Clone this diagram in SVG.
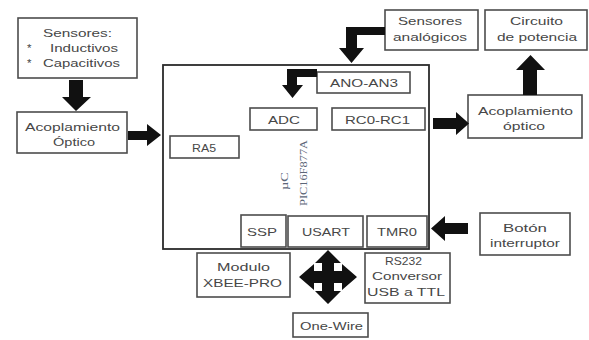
<svg xmlns="http://www.w3.org/2000/svg" width="589" height="340" viewBox="0 0 589 340">
  <style>
    .box { fill: #ffffff; stroke: #4d4d4d; stroke-width: 1.6; }
    .main { fill: #ffffff; stroke: #2b2b2b; stroke-width: 1.8; }
    .lbl { font-family: "Liberation Sans", Arial, sans-serif; font-size: 11.5px; fill: #474747; }
    .vt { font-family: "Liberation Serif", "Times New Roman", serif; font-size: 10.5px; fill: #5c6678; }
    .arrow { fill: #111111; }
  </style>

  <rect width="589" height="340" fill="#ffffff"/>

  <!-- microcontroller body -->
  <g id="mcu">
    <rect class="main" x="163" y="65" width="266" height="184"/>
    <text class="vt" text-anchor="middle" transform="translate(284,181) rotate(-90)" y="3.5" textLength="18" lengthAdjust="spacingAndGlyphs">µC</text>
    <text class="vt" text-anchor="middle" transform="translate(303,173) rotate(-90)" y="3.5" textLength="66" lengthAdjust="spacingAndGlyphs">PIC16F877A</text>
  </g>

  <g id="ano-an3">
    <rect class="box" x="317" y="72" width="93" height="21"/>
    <text class="lbl" x="330" y="87" textLength="68" lengthAdjust="spacingAndGlyphs">ANO-AN3</text>
  </g>
  <g id="adc">
    <rect class="box" x="250" y="108" width="67" height="22"/>
    <text class="lbl" x="268" y="124" textLength="32" lengthAdjust="spacingAndGlyphs">ADC</text>
  </g>
  <g id="rc0-rc1">
    <rect class="box" x="332" y="108" width="93" height="22"/>
    <text class="lbl" x="345" y="124" textLength="65" lengthAdjust="spacingAndGlyphs">RC0-RC1</text>
  </g>
  <g id="ra5">
    <rect class="box" x="170" y="136" width="69" height="22"/>
    <text class="lbl" x="192" y="152" textLength="24" lengthAdjust="spacingAndGlyphs">RA5</text>
  </g>
  <g id="ssp">
    <rect class="box" x="241" y="215" width="45" height="32"/>
    <text class="lbl" x="247" y="236" textLength="30" lengthAdjust="spacingAndGlyphs">SSP</text>
  </g>
  <g id="usart">
    <rect class="box" x="288" y="216" width="75" height="31"/>
    <text class="lbl" x="302" y="236" textLength="48" lengthAdjust="spacingAndGlyphs">USART</text>
  </g>
  <g id="tmr0">
    <rect class="box" x="367" y="216" width="60" height="31"/>
    <text class="lbl" x="377" y="236" textLength="40" lengthAdjust="spacingAndGlyphs">TMR0</text>
  </g>

  <!-- external blocks -->
  <g id="sensores">
    <rect class="box" x="18" y="18" width="119" height="60"/>
    <text class="lbl" x="43" y="37" textLength="69" lengthAdjust="spacingAndGlyphs">Sensores:</text>
    <text class="lbl" x="27" y="52">*</text>
    <text class="lbl" x="50" y="52" textLength="68" lengthAdjust="spacingAndGlyphs">Inductivos</text>
    <text class="lbl" x="27" y="67">*</text>
    <text class="lbl" x="43" y="67" textLength="77" lengthAdjust="spacingAndGlyphs">Capacitivos</text>
  </g>
  <g id="acopl-in">
    <rect class="box" x="17" y="112" width="110" height="41"/>
    <text class="lbl" x="25" y="131" textLength="95" lengthAdjust="spacingAndGlyphs">Acoplamiento</text>
    <text class="lbl" x="53" y="146" textLength="42" lengthAdjust="spacingAndGlyphs">Óptico</text>
  </g>
  <g id="sensores-analogicos">
    <rect class="box" x="385" y="10" width="93" height="40"/>
    <text class="lbl" x="398" y="25" textLength="64" lengthAdjust="spacingAndGlyphs">Sensores</text>
    <text class="lbl" x="393" y="41" textLength="74" lengthAdjust="spacingAndGlyphs">analógicos</text>
  </g>
  <g id="circuito">
    <rect class="box" x="485" y="10" width="102" height="40"/>
    <text class="lbl" x="510" y="25" textLength="53" lengthAdjust="spacingAndGlyphs">Circuito</text>
    <text class="lbl" x="497" y="41" textLength="80" lengthAdjust="spacingAndGlyphs">de potencia</text>
  </g>
  <g id="acopl-out">
    <rect class="box" x="468" y="95" width="114" height="43"/>
    <text class="lbl" x="478" y="115" textLength="95" lengthAdjust="spacingAndGlyphs">Acoplamiento</text>
    <text class="lbl" x="503" y="130" textLength="42" lengthAdjust="spacingAndGlyphs">óptico</text>
  </g>
  <g id="boton">
    <rect class="box" x="480" y="213" width="90" height="42"/>
    <text class="lbl" x="503" y="232" textLength="44" lengthAdjust="spacingAndGlyphs">Botón</text>
    <text class="lbl" x="490" y="247" textLength="70" lengthAdjust="spacingAndGlyphs">interruptor</text>
  </g>
  <g id="xbee">
    <rect class="box" x="197" y="253" width="93" height="44"/>
    <text class="lbl" x="217" y="271" textLength="53" lengthAdjust="spacingAndGlyphs">Modulo</text>
    <text class="lbl" x="203" y="287" textLength="79" lengthAdjust="spacingAndGlyphs">XBEE-PRO</text>
  </g>
  <g id="rs232">
    <rect class="box" x="365" y="253" width="85" height="50"/>
    <text class="lbl" x="385" y="265" textLength="37" lengthAdjust="spacingAndGlyphs">RS232</text>
    <text class="lbl" x="372" y="280" textLength="70" lengthAdjust="spacingAndGlyphs">Conversor</text>
    <text class="lbl" x="367" y="296" textLength="78" lengthAdjust="spacingAndGlyphs">USB a TTL</text>
  </g>
  <g id="one-wire">
    <rect class="box" x="293" y="313" width="75" height="24"/>
    <text class="lbl" x="300" y="330" textLength="63" lengthAdjust="spacingAndGlyphs">One-Wire</text>
  </g>

  <!-- block arrows -->
  <g id="connectors">
    <!-- sensores -> acoplamiento -->
    <polygon class="arrow" points="69,80 83,80 83,97 91,97 76,111 62,97 69,97"/>
    <!-- acoplamiento -> RA5 side -->
    <polygon class="arrow" points="128,131 147,131 147,124 161,135 147,146 147,140 128,140"/>
    <!-- sensores analógicos -> main body -->
    <polygon class="arrow" points="385,27 385,35 357,35 357,48 364,48 351.5,63 339,48 346,48 346,27"/>
    <!-- ANO-AN3 -> ADC -->
    <polygon class="arrow" points="317,69 317,77 297,77 297,85 303,85 292.5,98 282,85 287,85 287,69"/>
    <!-- RC0-RC1 -> acoplamiento óptico -->
    <polygon class="arrow" points="433,118 456,118 456,112 469,123.5 456,135 456,129 433,129"/>
    <!-- acoplamiento óptico -> circuito de potencia -->
    <polygon class="arrow" points="523,95 523,70 516,70 530.5,55 545,70 537,70 537,95"/>
    <!-- botón -> TMR0 -->
    <polygon class="arrow" points="468,223 445,223 445,216 431,228.5 445,241 445,234 468,234"/>
    <!-- four-way USART bus -->
    <polygon class="arrow" points="328,250 341,263 334,263 334,271 342,271 342,264 357,277 342,290 342,283 334,283 334,291 341,291 328,304 315,291 322,291 322,283 314,283 314,290 299,277 314,264 314,271 322,271 322,263 315,263"/>
  </g>
</svg>
